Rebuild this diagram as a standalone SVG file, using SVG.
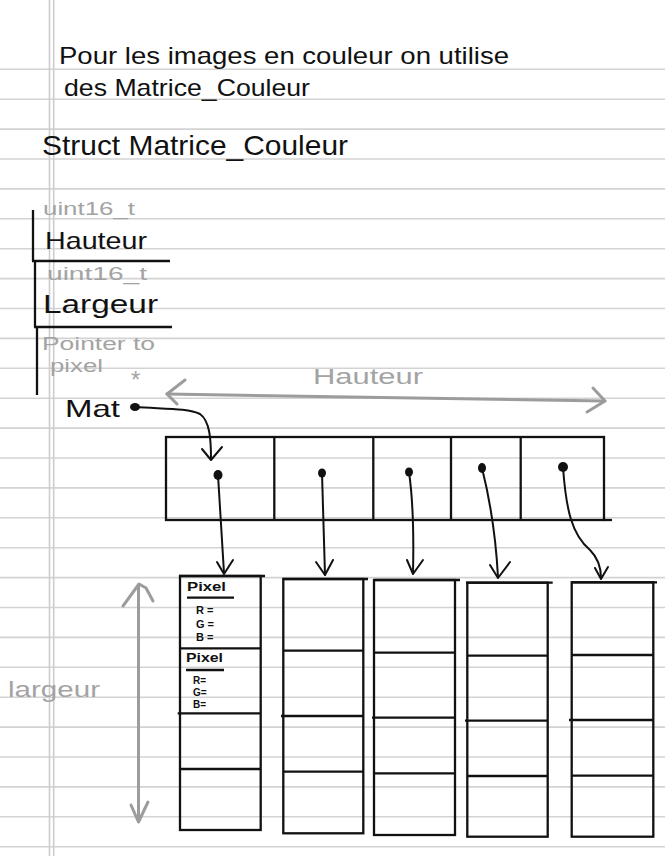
<svg xmlns="http://www.w3.org/2000/svg" width="665" height="856" viewBox="0 0 665 856">
<style>
.rule{stroke:#d3d3d3;stroke-width:1.6}
.margin{stroke:#cdcdcd;stroke-width:1.6}
.ink{font-family:"Liberation Sans","DejaVu Sans",sans-serif;fill:#111}
.pale{font-family:"Liberation Sans","DejaVu Sans",sans-serif;fill:#a3a3a3}
.box{fill:none;stroke:#111;stroke-width:2.3}
.ln{stroke:#111;stroke-width:2.3;fill:none}
.wire{fill:none;stroke:#111;stroke-width:2;stroke-linecap:round;stroke-linejoin:round}
.gwire{fill:none;stroke:#9c9c9c;stroke-width:3;stroke-linecap:round;stroke-linejoin:round}
.dot{fill:#111}
.px{font-family:"Liberation Sans","DejaVu Sans",sans-serif;fill:#111;font-weight:bold}
</style>
<rect width="665" height="856" fill="#fff"/>
<g id="paper">
<line class="rule" x1="0" y1="69.3" x2="665" y2="69.3"/>
<line class="rule" x1="0" y1="99.2" x2="665" y2="99.2"/>
<line class="rule" x1="0" y1="129.1" x2="665" y2="129.1"/>
<line class="rule" x1="0" y1="159" x2="665" y2="159"/>
<line class="rule" x1="0" y1="188.9" x2="665" y2="188.9"/>
<line class="rule" x1="0" y1="218.8" x2="665" y2="218.8"/>
<line class="rule" x1="0" y1="248.7" x2="665" y2="248.7"/>
<line class="rule" x1="0" y1="278.6" x2="665" y2="278.6"/>
<line class="rule" x1="0" y1="308.5" x2="665" y2="308.5"/>
<line class="rule" x1="0" y1="338.4" x2="665" y2="338.4"/>
<line class="rule" x1="0" y1="368.3" x2="665" y2="368.3"/>
<line class="rule" x1="0" y1="398.2" x2="665" y2="398.2"/>
<line class="rule" x1="0" y1="428.1" x2="665" y2="428.1"/>
<line class="rule" x1="0" y1="458" x2="665" y2="458"/>
<line class="rule" x1="0" y1="487.9" x2="665" y2="487.9"/>
<line class="rule" x1="0" y1="517.8" x2="665" y2="517.8"/>
<line class="rule" x1="0" y1="547.7" x2="665" y2="547.7"/>
<line class="rule" x1="0" y1="577.6" x2="665" y2="577.6"/>
<line class="rule" x1="0" y1="607.5" x2="665" y2="607.5"/>
<line class="rule" x1="0" y1="637.4" x2="665" y2="637.4"/>
<line class="rule" x1="0" y1="667.3" x2="665" y2="667.3"/>
<line class="rule" x1="0" y1="697.2" x2="665" y2="697.2"/>
<line class="rule" x1="0" y1="727.1" x2="665" y2="727.1"/>
<line class="rule" x1="0" y1="757" x2="665" y2="757"/>
<line class="rule" x1="0" y1="786.9" x2="665" y2="786.9"/>
<line class="rule" x1="0" y1="816.8" x2="665" y2="816.8"/>
<line class="rule" x1="0" y1="846.7" x2="665" y2="846.7"/>
<line class="margin" x1="49.5" y1="0" x2="49.5" y2="856"/>
<line class="margin" x1="53.7" y1="0" x2="53.7" y2="856"/>
</g>
<g id="intro">
<text class="ink" x="59" y="64" font-size="24" textLength="450" lengthAdjust="spacingAndGlyphs">Pour les images en couleur on utilise</text>
<text class="ink" x="64" y="96" font-size="24" textLength="246" lengthAdjust="spacingAndGlyphs">des Matrice_Couleur</text>
</g>
<g id="title">
<text class="ink" x="42" y="155" font-size="28" textLength="306" lengthAdjust="spacingAndGlyphs">Struct Matrice_Couleur</text>
</g>
<g id="field-hauteur">
<line class="ln" x1="33" y1="210" x2="33" y2="261"/>
<line class="ln" x1="32" y1="261" x2="170" y2="261"/>
<text class="pale" x="43" y="215" font-size="18" textLength="92" lengthAdjust="spacingAndGlyphs">uint16_t</text>
<text class="ink" x="45" y="249" font-size="24" textLength="102" lengthAdjust="spacingAndGlyphs">Hauteur</text>
</g>
<g id="field-largeur">
<line class="ln" x1="35" y1="261" x2="35" y2="327"/>
<line class="ln" x1="34" y1="327" x2="172" y2="327"/>
<text class="pale" x="47" y="280" font-size="18" textLength="100" lengthAdjust="spacingAndGlyphs">uint16_t</text>
<text class="ink" x="43" y="313" font-size="26" textLength="115" lengthAdjust="spacingAndGlyphs">Largeur</text>
</g>
<g id="field-mat">
<line class="ln" x1="37" y1="327" x2="37" y2="395"/>
<text class="pale" x="42" y="350" font-size="18" textLength="113" lengthAdjust="spacingAndGlyphs">Pointer to</text>
<text class="pale" x="50" y="372" font-size="18" textLength="53" lengthAdjust="spacingAndGlyphs">pixel</text>
<text class="pale" x="131" y="388" font-size="24">*</text>
<text class="ink" x="65" y="417" font-size="24" textLength="55" lengthAdjust="spacingAndGlyphs">Mat</text>
<ellipse class="dot" cx="135" cy="407" rx="5" ry="4"/>
</g>
<g id="dim-hauteur">
<text class="pale" x="313" y="384" font-size="22" textLength="110" lengthAdjust="spacingAndGlyphs">Hauteur</text>
</g>
<g id="dim-largeur">
<text class="pale" x="8" y="697" font-size="22" textLength="92" lengthAdjust="spacingAndGlyphs">largeur</text>
</g>
<g id="pointer-array">
<rect class="box" x="166" y="437" width="438" height="83"/>
<line class="ln" x1="604" y1="520" x2="612" y2="520"/>
<line class="ln" x1="274.3" y1="437" x2="274.3" y2="520"/>
<line class="ln" x1="373.3" y1="437" x2="373.3" y2="520"/>
<line class="ln" x1="451" y1="437" x2="451" y2="520"/>
<line class="ln" x1="520.7" y1="437" x2="520.7" y2="520"/>
<ellipse class="dot" cx="218" cy="475" rx="4.5" ry="5"/>
<ellipse class="dot" cx="322" cy="473" rx="4" ry="4.5"/>
<ellipse class="dot" cx="409" cy="472" rx="4" ry="4.5"/>
<ellipse class="dot" cx="482" cy="468" rx="4" ry="5"/>
<ellipse class="dot" cx="563" cy="467" rx="5" ry="5"/>
</g>
<g id="column-1">
<rect class="box" x="180" y="576" width="80.7" height="254"/>
<line class="ln" x1="179" y1="576" x2="265" y2="576"/>
<line class="ln" x1="180" y1="648.3" x2="260.7" y2="648.3"/>
<line class="ln" x1="177.7" y1="713.3" x2="260.7" y2="713.3"/>
<line class="ln" x1="180" y1="769" x2="260.7" y2="769"/>
<text class="px" x="187" y="591" font-size="13" textLength="39" lengthAdjust="spacingAndGlyphs">Pixel</text>
<line class="ln" x1="187" y1="597.7" x2="234" y2="597.7" stroke-width="1.8"/>
<text class="px" x="196" y="614" font-size="11">R =</text>
<text class="px" x="196" y="627.5" font-size="11">G =</text>
<text class="px" x="196" y="641" font-size="11">B =</text>
<text class="px" x="186" y="662" font-size="13" textLength="37" lengthAdjust="spacingAndGlyphs">Pixel</text>
<line class="ln" x1="186" y1="670" x2="224" y2="670" stroke-width="1.8"/>
<text class="px" x="193" y="684" font-size="10">R=</text>
<text class="px" x="193" y="696" font-size="10">G=</text>
<text class="px" x="193" y="708" font-size="10">B=</text>
</g>
<g id="column-2">
<rect class="box" x="283.3" y="579" width="80" height="254.3"/>
<line class="ln" x1="282.7" y1="579" x2="368" y2="579"/>
<line class="ln" x1="283.3" y1="650.7" x2="363.3" y2="650.7"/>
<line class="ln" x1="281" y1="716" x2="363.3" y2="716"/>
<line class="ln" x1="283.3" y1="771.7" x2="363.3" y2="771.7"/>
</g>
<g id="column-3">
<rect class="box" x="374" y="580" width="81" height="255"/>
<line class="ln" x1="374" y1="580" x2="460" y2="580"/>
<line class="ln" x1="374" y1="652.7" x2="455" y2="652.7"/>
<line class="ln" x1="372" y1="717.7" x2="455" y2="717.7"/>
<line class="ln" x1="374" y1="773.3" x2="455" y2="773.3"/>
</g>
<g id="column-4">
<rect class="box" x="467.3" y="582.7" width="80.4" height="254"/>
<line class="ln" x1="466" y1="582.7" x2="552.7" y2="582.7"/>
<line class="ln" x1="467.3" y1="655.7" x2="547.7" y2="655.7"/>
<line class="ln" x1="465" y1="720.7" x2="547.7" y2="720.7"/>
<line class="ln" x1="467.3" y1="776" x2="547.7" y2="776"/>
</g>
<g id="column-5">
<rect class="box" x="571.7" y="582.3" width="81.6" height="254.4"/>
<line class="ln" x1="571.7" y1="582.3" x2="657" y2="582.3"/>
<line class="ln" x1="571.7" y1="655" x2="653.3" y2="655"/>
<line class="ln" x1="569" y1="720" x2="653.3" y2="720"/>
<line class="ln" x1="571.7" y1="775.7" x2="653.3" y2="775.7"/>
</g>
<g id="connectors">
<path class="wire" d="M135,407 C165,409 188,408 200,414 C210,421 211,440 211,459"/>
<path class="wire" d="M202,449 L211,460 L222,447"/>
<path class="wire" d="M218,475 L224,573"/>
<path class="wire" d="M217,562 L224,574 L233,560"/>
<path class="wire" d="M322,473 L325,575"/>
<path class="wire" d="M316,562 L325,575 L333,560"/>
<path class="wire" d="M409,472 C413,500 414,530 413,573"/>
<path class="wire" d="M407,560 L413,574 L423,560"/>
<path class="wire" d="M482,468 C490,500 496,540 498,577"/>
<path class="wire" d="M490,565 L498,578 L510,562"/>
<path class="wire" d="M563,467 C566,510 572,535 590,550 C598,558 601,566 601,578"/>
<path class="wire" d="M595,568 L601,579 L608,567"/>
<path class="gwire" d="M167,394 L605,401"/>
<path class="gwire" d="M185,380 L167,394 L177,404"/>
<path class="gwire" d="M593,388 L605,401 L587,412"/>
<path class="gwire" d="M138.5,585 L138.5,821"/>
<path class="gwire" d="M123,606 L139,584 L146,588 L153,601"/>
<path class="gwire" d="M131,805 L138.5,822 L148,802"/>
</g>
</svg>
